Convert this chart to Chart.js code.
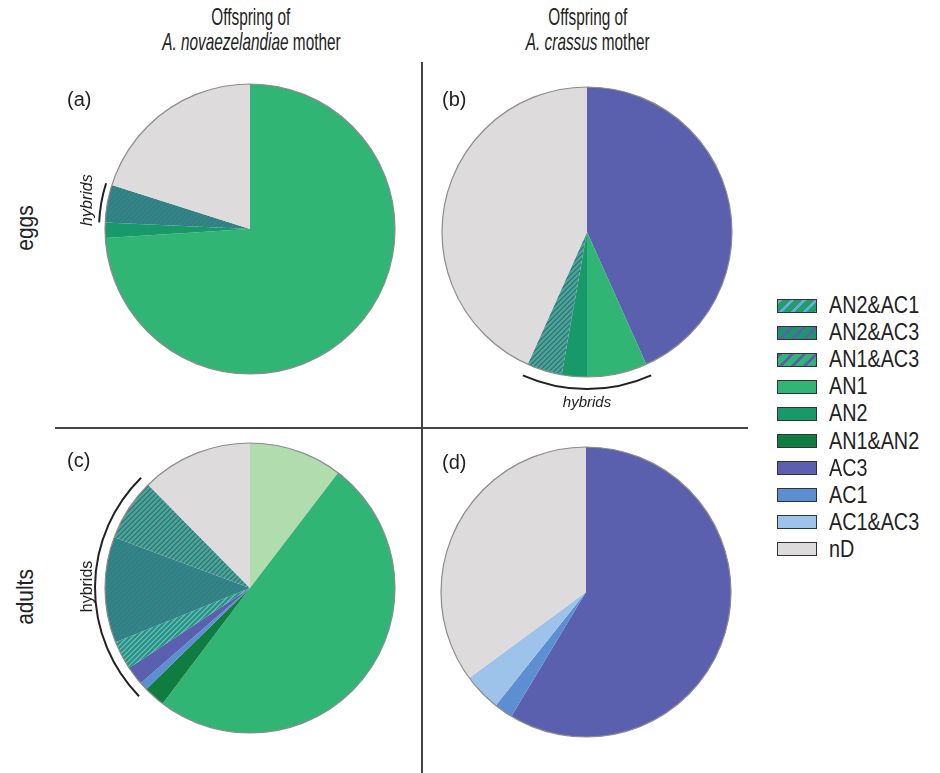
<!DOCTYPE html>
<html>
<head>
<meta charset="utf-8">
<script src="https://cdn.jsdelivr.net/npm/chart.js@4"></script>
<style>
  body { margin: 0; background: #fff; }
  #fig { position: relative; width: 940px; height: 773px; overflow: hidden;
         font-family: "Liberation Sans", Arial, sans-serif; color: #222; }
  .pie { position: absolute; }
  .head { position: absolute; width: 320px; text-align: center; font-size: 24px; line-height: 25px; }
  .head span { display: inline-block; transform: scaleX(0.64); white-space: nowrap; }
  .row { position: absolute; font-size: 24px; transform: translate(-50%, -50%) rotate(-90deg) scaleX(0.87); white-space: nowrap; }
  .tag { position: absolute; font-size: 20px; }
  .vline { position: absolute; left: 421px; top: 62px; width: 2px; height: 711px; background: #444; }
  .hline { position: absolute; left: 55px; top: 427px; width: 693px; height: 2px; background: #444; }
  #legend { position: absolute; left: 777px; top: 292px; }
  #legend div { height: 27.1px; display: flex; align-items: center; font-size: 23px; white-space: nowrap; }
  #legend canvas { border: 1.5px solid #333; margin-right: 12px; }
  #legend span { display: inline-block; transform: scaleX(0.86); transform-origin: left center; }
</style>
</head>
<body>
<div id="fig">
  <div class="head" style="left:91px; top:4px;"><span>Offspring of</span><br><span><i>A. novaezelandiae</i> mother</span></div>
  <div class="head" style="left:428px; top:4px;"><span>Offspring of</span><br><span><i>A. crassus</i> mother</span></div>
  <div class="row" style="left:25px; top:228px;">eggs</div>
  <div class="row" style="left:25px; top:597px;">adults</div>
  <div class="vline"></div>
  <div class="hline"></div>
  <canvas id="pieA" class="pie" width="360" height="360" style="left:70px; top:49px;"></canvas>
  <canvas id="pieB" class="pie" width="360" height="360" style="left:407px; top:52px;"></canvas>
  <canvas id="pieC" class="pie" width="360" height="360" style="left:70px; top:408px;"></canvas>
  <canvas id="pieD" class="pie" width="360" height="360" style="left:406px; top:412px;"></canvas>
  <div class="tag" style="left:67px; top:88px;">(a)</div>
  <div class="tag" style="left:442px; top:88px;">(b)</div>
  <div class="tag" style="left:67px; top:449px;">(c)</div>
  <div class="tag" style="left:442px; top:451px;">(d)</div>
  <div id="legend"></div>
</div>
<script>
// legend categories
const legendLabels = ['AN2&AC1', 'AN2&AC3', 'AN1&AC3', 'AN1', 'AN2', 'AN1&AN2', 'AC3', 'AC1', 'AC1&AC3', 'nD'];

// shares in %, listed clockwise from 12 o'clock
const eggsAnLabels = ['AN1', 'AN2', 'AN2&AC3', 'nD'];
const eggsAnValues = [74.0, 1.7, 4.2, 20.1];

const eggsAcLabels = ['AC3', 'AN1', 'AN2', 'AN1&AC3', 'nD'];
const eggsAcValues = [43.3, 6.7, 2.8, 3.9, 43.3];

const adultsAnLabels = ['AN1 (pale)', 'AN1', 'AN1&AN2', 'AC1', 'AC3', 'AN2&AC1', 'AN2&AC3', 'AN1&AC3', 'nD'];
const adultsAnValues = [10.4, 49.9, 2.4, 0.9, 2.1, 3.2, 11.8, 6.9, 12.4];

const adultsAcLabels = ['AC3', 'AC1', 'AC1&AC3', 'nD'];
const adultsAcValues = [58.6, 2.1, 4.2, 35.1];

// slices under the "hybrids" bracket
const hybridsEggsAn = ['AN2&AC3'];
const hybridsEggsAc = ['AN1', 'AN2', 'AN1&AC3'];
const hybridsAdultsAn = ['AC1', 'AC3', 'AN2&AC1', 'AN2&AC3', 'AN1&AC3'];

const solid = {
  'AN1': '#30b575',
  'AN2': '#17996a',
  'AN1&AN2': '#0f7c40',
  'AC3': '#5a5fae',
  'AC1': '#5b8fd2',
  'AC1&AC3': '#9dc3ea',
  'nD': '#dddbdb',
  'AN1 (pale)': '#b1dcae'
};
const striped = {
  'AN2&AC1': ['#1f9e68', '#6da6dc'],
  'AN2&AC3': ['#17996a', '#5a5fae'],
  'AN1&AC3': ['#30b575', '#5a5fae']
};

// crisp "/" stripes, pixel by pixel
function makePattern(base, stripe, p, w) {
  const c = document.createElement('canvas');
  c.width = p; c.height = p;
  const g = c.getContext('2d');
  g.fillStyle = base;
  g.fillRect(0, 0, p, p);
  g.fillStyle = stripe;
  for (let i = 0; i < p; i++) {
    for (let j = 0; j < p; j++) {
      if ((i + j) % p < w) g.fillRect(i, j, 1, 1);
    }
  }
  return g.createPattern(c, 'repeat');
}

function fillFor(label) {
  if (striped[label]) {
    const s = striped[label];
    return makePattern(s[0], s[1], 5, 2);
  }
  return solid[label];
}

const pieExtras = {
  id: 'pieExtras',
  afterDatasetsDraw(chart, args, opts) {
    const ctx = chart.ctx;
    const arcs = chart.getDatasetMeta(0).data;
    const { x, y, outerRadius } = arcs[0];
    ctx.save();
    ctx.beginPath();
    ctx.arc(x, y, outerRadius, 0, Math.PI * 2);
    ctx.strokeStyle = '#8c8c8c';
    ctx.lineWidth = 1.2;
    ctx.stroke();

    if (opts.hybrids && opts.hybrids.length) {
      const idx = chart.data.labels.map((l, i) => opts.hybrids.includes(l) ? i : -1).filter(i => i >= 0);
      const a0 = arcs[idx[0]].startAngle;
      const a1 = arcs[idx[idx.length - 1]].endAngle;
      ctx.beginPath();
      ctx.arc(x, y, outerRadius + opts.gap, a0, a1);
      ctx.strokeStyle = '#222';
      ctx.lineWidth = 2;
      ctx.stroke();

      const mid = (a0 + a1) / 2;
      const tr = outerRadius + opts.textGap;
      ctx.translate(x + Math.cos(mid) * tr, y + Math.sin(mid) * tr);
      ctx.rotate(opts.rotate * Math.PI / 180);
      ctx.font = opts.font;
      ctx.textAlign = 'center';
      ctx.textBaseline = 'middle';
      ctx.fillStyle = '#222';
      ctx.fillText('hybrids', 0, 0);
    }
    ctx.restore();
  }
};

function drawPie(id, labels, values, extras) {
  new Chart(document.getElementById(id), {
    type: 'pie',
    data: {
      labels: labels,
      datasets: [{
        data: values,
        backgroundColor: labels.map(l => fillFor(l)),
        borderWidth: 0
      }]
    },
    options: {
      responsive: false,
      animation: false,
      events: [],
      radius: 145,
      plugins: {
        legend: { display: false },
        tooltip: { enabled: false },
        pieExtras: extras
      }
    },
    plugins: [pieExtras]
  });
}

drawPie('pieA', eggsAnLabels, eggsAnValues,
  { hybrids: hybridsEggsAn, gap: 6, textGap: 20, rotate: -90, font: 'italic 16px "Liberation Sans", Arial, sans-serif' });
drawPie('pieB', eggsAcLabels, eggsAcValues,
  { hybrids: hybridsEggsAc, gap: 12, textGap: 26, rotate: 0, font: 'italic 15px "Liberation Sans", Arial, sans-serif' });
drawPie('pieC', adultsAnLabels, adultsAnValues,
  { hybrids: hybridsAdultsAn, gap: 10, textGap: 17, rotate: -90, font: '16px "Liberation Sans", Arial, sans-serif' });
drawPie('pieD', adultsAcLabels, adultsAcValues, { hybrids: [] });

// legend
const legend = document.getElementById('legend');
legendLabels.forEach(l => {
  const row = document.createElement('div');
  const sw = document.createElement('canvas');
  sw.width = 38; sw.height = 12;
  const g = sw.getContext('2d');
  if (striped[l]) {
    const s = striped[l];
    g.fillStyle = makePattern(s[0], s[1], 12, 4);
  } else {
    g.fillStyle = solid[l];
  }
  g.fillRect(0, 0, 38, 12);
  row.appendChild(sw);
  const txt = document.createElement('span');
  txt.textContent = l;
  row.appendChild(txt);
  legend.appendChild(row);
});
</script>
</body>
</html>
